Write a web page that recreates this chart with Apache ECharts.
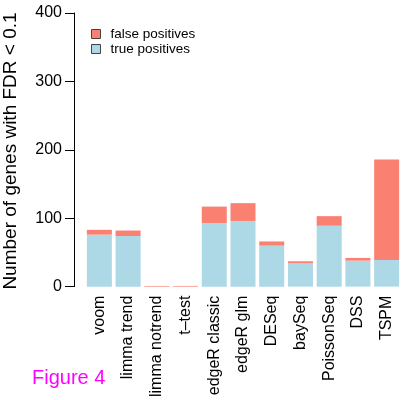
<!DOCTYPE html>
<html>
<head>
<meta charset="utf-8">
<script src="https://cdn.jsdelivr.net/npm/echarts@6/dist/echarts.min.js"></script>
<style>
  html, body { margin: 0; padding: 0; background: #fff; overflow: hidden; }
  #chart { width: 401px; height: 400px; }
</style>
</head>
<body>
<div id="chart"></div>
<script>
// Methods compared
const methods = ['voom', 'limma trend', 'limma notrend', 't\u2013test', 'edgeR classic',
  'edgeR glm', 'DESeq', 'baySeq', 'PoissonSeq', 'DSS', 'TSPM'];
// Genes called at FDR < 0.1, split into true and false discoveries
const truePositives = [76, 74, 0, 0, 93, 96, 60, 34, 89, 38, 39];
const falsePositives = [7, 8, 1, 1, 24, 26, 6, 3, 14, 4, 147];
// Y axis ticks
const yTicks = [0, 100, 200, 300, 400];

const font = 'Liberation Sans, Arial, Helvetica, sans-serif';
const chart = echarts.init(document.getElementById('chart'), null, { renderer: 'canvas' });

chart.setOption({
  animation: false,
  backgroundColor: '#fff',
  textStyle: { fontFamily: font },
  grid: { left: 85, right: -3, top: 13, bottom: 113 },
  legend: {
    data: ['false positives', 'true positives'],
    orient: 'vertical',
    left: 86,
    top: 22,
    itemWidth: 9,
    itemHeight: 9,
    itemGap: 1,
    icon: 'rect',
    itemStyle: { borderColor: '#444', borderWidth: 1 },
    textStyle: { fontFamily: font, fontSize: 13.5, color: '#000', padding: [0, 0, 0, 5] }
  },
  xAxis: {
    type: 'category',
    data: methods,
    axisLine: { show: false },
    axisTick: { show: false },
    axisLabel: {
      rotate: 90,
      interval: 0,
      margin: 9,
      fontSize: 16,
      color: '#000',
      fontFamily: font
    }
  },
  yAxis: {
    type: 'value',
    min: yTicks[0],
    max: yTicks[yTicks.length - 1],
    interval: 100,
    offset: 11,
    splitLine: { show: false },
    axisLine: { show: true, lineStyle: { color: '#000', width: 1 } },
    axisTick: { show: true, length: 9, lineStyle: { color: '#000', width: 1 } },
    axisLabel: { margin: 12, fontSize: 16, color: '#000', fontFamily: font }
  },
  series: [
    {
      name: 'true positives',
      type: 'bar',
      stack: 'calls',
      data: truePositives,
      barWidth: 25,
      itemStyle: { color: '#ADD8E6' }
    },
    {
      name: 'false positives',
      type: 'bar',
      stack: 'calls',
      data: falsePositives,
      barWidth: 25,
      itemStyle: { color: '#FA8072' }
    }
  ],
  graphic: [
    {
      type: 'text',
      x: 11,
      y: 151,
      rotation: Math.PI / 2,
      style: {
        text: 'Number of genes with FDR < 0.1',
        font: '19px ' + font,
        fill: '#000',
        align: 'center',
        verticalAlign: 'middle'
      }
    },
    {
      type: 'text',
      x: 32,
      y: 388,
      style: {
        text: 'Figure 4',
        font: '20px ' + font,
        fill: '#FF00FF',
        align: 'left',
        verticalAlign: 'bottom'
      }
    }
  ]
});
</script>
</body>
</html>
